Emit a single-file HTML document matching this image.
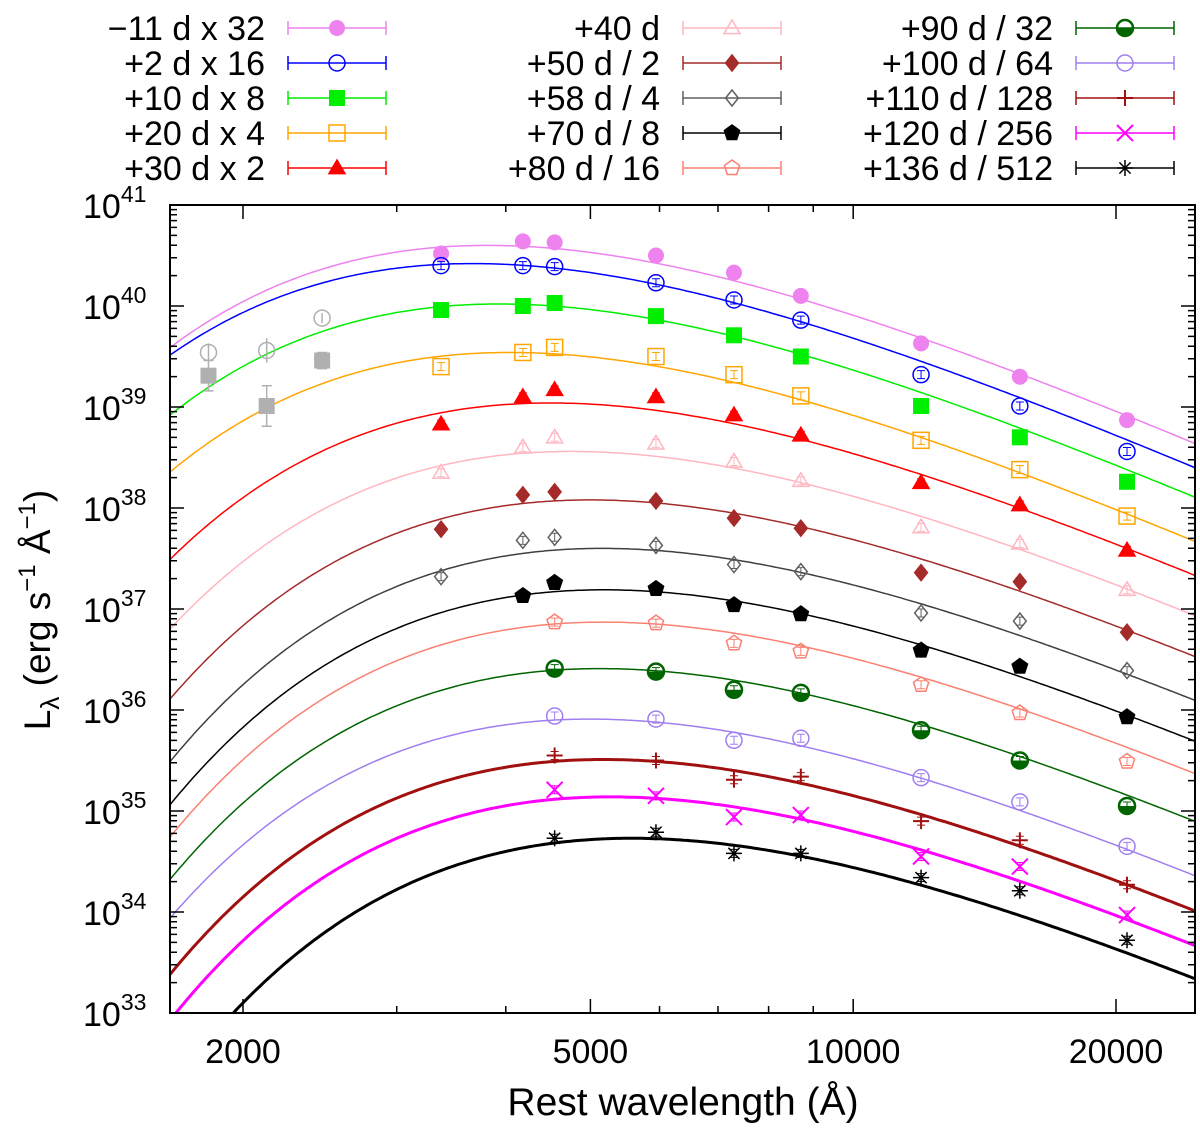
<!DOCTYPE html>
<html><head><meta charset="utf-8"><style>
body{margin:0;background:#fff}
svg text{font-family:"Liberation Sans",sans-serif}
</style></head><body>
<svg id="chart" width="1200" height="1127" viewBox="0 0 1200 1127" xmlns="http://www.w3.org/2000/svg">
<defs><clipPath id="clip"><rect x="170" y="205" width="1025" height="808"/></clipPath></defs>
<g id="curves" clip-path="url(#clip)"></g>
<g id="points"></g>
<g id="axes"></g>
<g id="legend"></g>
<text x="683" y="1115" font-size="39" text-anchor="middle">Rest wavelength (Å)</text>
<text transform="translate(50,610) rotate(-90)" font-size="37" text-anchor="middle">L<tspan font-size="26" dy="9">λ</tspan><tspan dy="-9"> (erg s</tspan><tspan font-size="24" dy="-15">−1</tspan><tspan dy="15"> Å</tspan><tspan font-size="24" dy="-15">−1</tspan><tspan dy="15">)</tspan></text>
</svg>
<script>
const labels=["−11 d x 32","+2 d x 16","+10 d x 8","+20 d x 4","+30 d x 2","+40 d","+50 d / 2","+58 d / 4","+70 d / 8","+80 d / 16","+90 d / 32","+100 d / 64","+110 d / 128","+120 d / 256","+136 d / 512"];
const colors=["#ee82ee","#0000ff","#00ee00","#ffa500","#ff0000","#ffb6c1","#a52a2a","#606060","#000000","#fa8072","#006400","#a07ef0","#a01010","#ff00ff","#000000"];
const curveColors=["#ee82ee","#0000ff","#00ee00","#ffa500","#ff0000","#ffb6c1","#a52a2a","#404040","#000000","#fa8072","#006400","#a07ef0","#a01010","#ff00ff","#000000"];
const markers=["fcircle","ocircle","fsquare","osquare","ftri","otri","fdiamond","odiamond","fpent","opent","hcircle","ocircle","plus","cross","star"];
const curveWidths=[1.5,1.5,1.5,1.5,1.5,1.5,1.5,1.5,1.5,1.5,1.5,1.5,3,3,3];
const temps=[7600,7900,7370,7170,6440,6100,5800,5620,5600,5600,5650,5800,5600,5500,5200];
const peakLogL=[40.60,40.42,40.02,39.54,39.04,38.56,38.08,37.60,37.19,36.87,36.41,35.91,35.51,35.14,34.73];
const bands=[3372,4184,4550,5944,7302,8710,11960,15520,20590];
const logL=[
[40.52,40.64,40.63,40.50,40.33,40.10,39.63,39.30,38.87],
[40.40,40.40,40.39,40.23,40.06,39.86,39.32,39.01,38.56],
[39.96,40.00,40.03,39.90,39.71,39.50,39.01,38.70,38.26],
[39.40,39.54,39.59,39.50,39.32,39.11,38.67,38.38,37.92],
[38.83,39.10,39.17,39.10,38.92,38.72,38.25,38.03,37.58],
[38.35,38.60,38.70,38.64,38.46,38.27,37.81,37.65,37.19],
[37.79,38.13,38.16,38.07,37.90,37.80,37.36,37.27,36.77],
[37.32,37.68,37.71,37.63,37.44,37.37,36.96,36.88,36.39],
[null,37.13,37.26,37.20,37.04,36.95,36.59,36.43,35.93],
[null,null,36.87,36.86,36.66,36.58,36.25,35.97,35.49],
[null,null,36.41,36.38,36.20,36.17,35.80,35.50,35.05],
[null,null,35.94,35.91,35.70,35.72,35.33,35.09,34.65],
[null,null,35.55,35.50,35.31,35.34,34.90,34.71,34.27],
[null,null,35.21,35.15,34.94,34.96,34.55,34.45,33.97],
[null,null,34.73,34.79,34.58,34.58,34.34,34.21,33.72]];
const uvBands=[1826,2129,2464];
const uvCircleLogL=[39.54,39.56,39.88];
const uvSquareLogL=[39.31,39.01,39.46];
const uvErr=[0.15,0.2,0.08];
const xTicks=[2000,5000,10000,20000];
const xTickLabels=["2000","5000","10000","20000"];
const yTicks=[33,34,35,36,37,38,39,40,41];

const NS="http://www.w3.org/2000/svg";
const L=170,R=1195,T=205,B=1013;
function xs(l){return 243+873*Math.log10(l/2000);}
function ys(v){return T+101*(41-v);}
function mk(tag,attrs,parent){const e=document.createElementNS(NS,tag);for(const k in attrs)e.setAttribute(k,attrs[k]);parent.appendChild(e);return e;}
function f(x){return Math.pow(x,5)/(Math.exp(x)-1);}
const fpk=f(4.965);

const gc=document.getElementById('curves');
for(let i=0;i<temps.length;i++){
  let d="";
  for(let k=0;k<=300;k++){
    const lam=1600*Math.pow(26000/1600,k/300);
    const x=1.4388e8/(lam*temps[i]);
    const v=peakLogL[i]+Math.log10(f(x)/fpk);
    let y=ys(v); if(y>2000)y=2000;
    d+=(k?"L":"M")+xs(lam).toFixed(1)+" "+y.toFixed(1);
  }
  const p=mk('path',{d:d,fill:'none',stroke:curveColors[i],'stroke-width':curveWidths[i]},gc);
  
  
}

function marker(g,type,x,y,c,bar){
  const s=8;let e;
  if(type=="fcircle")e=mk('circle',{cx:x,cy:y,r:s,fill:c},g);
  else if(type=="ocircle"){e=mk('circle',{cx:x,cy:y,r:s,fill:'none',stroke:c,'stroke-width':1.5},g);}
  else if(type=="hcircle"){mk('circle',{cx:x,cy:y,r:s,fill:'none',stroke:c,'stroke-width':2.5},g);
    e=mk('path',{d:`M${x-s} ${y}A${s} ${s} 0 0 0 ${x} ${y+s}L${x} ${y}Z M${x} ${y}L${x+s} ${y}A${s} ${s} 0 0 1 ${x} ${y+s}Z`,fill:c},g);}
  else if(type=="fsquare")e=mk('rect',{x:x-s,y:y-s,width:2*s,height:2*s,fill:c},g);
  else if(type=="osquare")e=mk('rect',{x:x-s,y:y-s,width:2*s,height:2*s,fill:'none',stroke:c,'stroke-width':1.5},g);
  else if(type=="ftri"||type=="otri"){const o=type=="ftri";e=mk('path',{d:`M${x} ${y-s}L${x+s} ${y+s*0.7}L${x-s} ${y+s*0.7}Z`,fill:o?c:'none',stroke:c,'stroke-width':1.5},g);}
  else if(type=="fdiamond"||type=="odiamond"){const o=type=="fdiamond";e=mk('path',{d:`M${x} ${y-s}L${x+s*0.8} ${y}L${x} ${y+s}L${x-s*0.8} ${y}Z`,fill:o?c:'none',stroke:c,'stroke-width':1.5},g);}
  else if(type=="fpent"||type=="opent"){const o=type=="fpent";let d="";for(let k=0;k<5;k++){const a=-Math.PI/2+k*2*Math.PI/5;d+=(k?"L":"M")+(x+s*Math.cos(a)).toFixed(1)+" "+(y+s*Math.sin(a)).toFixed(1);}
    e=mk('path',{d:d+"Z",fill:o?c:'none',stroke:c,'stroke-width':1.5},g);}
  else if(type=="plus")e=mk('path',{d:`M${x-s} ${y}H${x+s}M${x} ${y-s}V${y+s}`,stroke:c,'stroke-width':2},g);
  else if(type=="cross")e=mk('path',{d:`M${x-s} ${y-s}L${x+s} ${y+s}M${x-s} ${y+s}L${x+s} ${y-s}`,stroke:c,'stroke-width':2},g);
  else if(type=="star")e=mk('path',{d:`M${x-s} ${y}H${x+s}M${x} ${y-s}V${y+s}M${x-s*.7} ${y-s*.7}L${x+s*.7} ${y+s*.7}M${x-s*.7} ${y+s*.7}L${x+s*.7} ${y-s*.7}`,stroke:c,'stroke-width':1.5},g);
  if(bar) mk('path',{d:`M${x} ${y-4}V${y+4}M${x-4} ${y-4}H${x+4}M${x-4} ${y+4}H${x+4}`,stroke:c,'stroke-width':1},g);
  return e;
}

const gp=document.getElementById('points');
for(let i=0;i<logL.length;i++){
  const g=mk('g',{},gp);
  
  
  logL[i].forEach((v,j)=>{if(v==null)return;const m=marker(g,markers[i],xs(bands[j]),ys(v),colors[i],true);
    
    });
}
const gu=mk('g',{},gp);


uvBands.forEach((l,j)=>{const x=xs(l);
  const y1=ys(uvCircleLogL[j]);
  mk('path',{d:`M${x} ${ys(uvCircleLogL[j]+uvErr[j]*0.6)}V${ys(uvCircleLogL[j]-uvErr[j]*0.6)}`,stroke:'#b0b0b0','stroke-width':1.5},gu);
  const c=mk('circle',{cx:x,cy:y1,r:8,fill:'none',stroke:'#b0b0b0','stroke-width':1.5},gu);
  
  
  const y2=ys(uvSquareLogL[j]);
  mk('path',{d:`M${x} ${ys(uvSquareLogL[j]+uvErr[j])}V${ys(uvSquareLogL[j]-uvErr[j])}M${x-5} ${ys(uvSquareLogL[j]+uvErr[j])}h10M${x-5} ${ys(uvSquareLogL[j]-uvErr[j])}h10`,stroke:'#b0b0b0','stroke-width':1.5},gu);
  const r=mk('rect',{x:x-8,y:y2-8,width:16,height:16,fill:'#b0b0b0'},gu);
  
  
});

const ga=document.getElementById('axes');
mk('rect',{x:L,y:T,width:R-L,height:B-T,fill:'none',stroke:'#000','stroke-width':2},ga);
let td="";
yTicks.forEach(v=>{const y=ys(v);td+=`M${L} ${y}h14M${R} ${y}h-14`;
  if(v<41)for(let k=2;k<10;k++){const yy=ys(v+Math.log10(k));td+=`M${L} ${yy}h7M${R} ${yy}h-7`;}
  const t=mk('text',{x:83,y:y+13,'font-size':34,'text-anchor':'start'},ga);
  t.textContent="10";
  const s=mk('tspan',{'font-size':23,dy:-16},t);s.textContent=String(v);
  
  
});
for(let l=2000;l<=24000;l+=(l<10000?1000:10000)){const x=xs(l);td+=`M${x} ${B}v-7M${x} ${T}v7`;}
xTicks.forEach((l,j)=>{const x=xs(l);td+=`M${x} ${B}v-14M${x} ${T}v14`;
  const t=mk('text',{x:x,y:B+50,'font-size':34,'text-anchor':'middle'},ga);
  t.textContent=xTickLabels[j];
  
  });
mk('path',{d:td,stroke:'#000','stroke-width':1.5,fill:'none'},ga);

const gl=document.getElementById('legend');
const colX=[265,660,1053],rowY=[28,63,98,133,168];
labels.forEach((lab,i)=>{const c=Math.floor(i/5),r=i%5;const y=rowY[r];
  const g=mk('g',{},gl);
  
  
  const t=mk('text',{x:colX[c],y:y+12,'font-size':34,'text-anchor':'end'},g);t.textContent=lab;
  const x0=colX[c]+23,x1=x0+98;
  mk('path',{d:`M${x0} ${y}H${x1}M${x0} ${y-7}v14M${x1} ${y-7}v14`,stroke:colors[i],'stroke-width':1.5},g);
  marker(g,markers[i],(x0+x1)/2,y,colors[i],false);
});
</script>
</body></html>
